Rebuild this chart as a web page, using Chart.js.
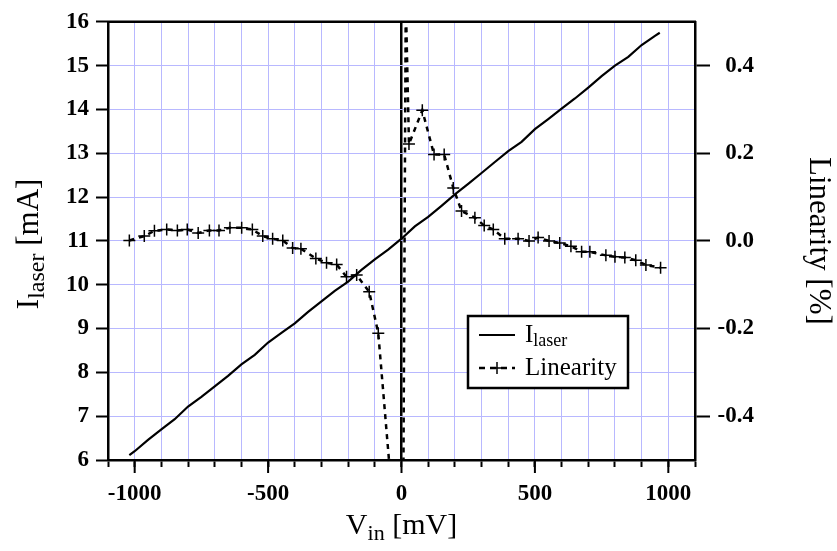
<!DOCTYPE html>
<html><head><meta charset="utf-8">
<script src="https://cdn.jsdelivr.net/npm/chart.js@4.4.0/dist/chart.umd.min.js"></script>
<style>html,body{margin:0;padding:0;background:#fff;} #wrap{width:837px;height:551px;position:relative;}</style>
</head><body><div id="wrap"><canvas id="c" width="837" height="551"></canvas></div>
<script>
// ---- data ----
const vinCurrent = [-1020,-1000,-950,-900,-850,-800,-750,-700,-650,-600,-550,-500,-450,-400,-350,-300,-250,-200,-150,-100,-50,0,50,100,150,200,250,300,350,400,450,500,550,600,650,700,750,800,850,900,950,968];
const laserCurrent = [6.11,6.20,6.46,6.70,6.93,7.22,7.44,7.68,7.92,8.18,8.40,8.68,8.90,9.12,9.38,9.62,9.86,10.07,10.34,10.58,10.80,11.05,11.33,11.55,11.80,12.06,12.30,12.55,12.80,13.05,13.26,13.55,13.78,14.02,14.25,14.50,14.76,15.00,15.20,15.47,15.68,15.75];
const vinLinearity = [-1020,-964,-926,-880,-840,-803,-762,-720,-684,-643,-599,-559,-520,-483,-445,-408,-377,-321,-281,-243,-206,-168,-121,-87,-40,7,16,28,78,122,160,194,225,275,310,344,387,437,478,512,553,593,635,675,706,766,800,837,878,916,971];
const linearity = [0.001,0.011,0.023,0.026,0.024,0.026,0.018,0.024,0.024,0.030,0.030,0.026,0.011,0.005,0.001,-0.016,-0.018,-0.040,-0.050,-0.054,-0.082,-0.078,-0.116,-0.211,-0.55,-0.55,0.55,0.221,0.298,0.197,0.197,0.121,0.068,0.053,0.035,0.026,0.005,0.005,0.000,0.0075,0.000,-0.005,-0.012,-0.025,-0.025,-0.033,-0.036,-0.038,-0.044,-0.055,-0.061];
const xMajorTicks = [-1000,-500,0,500,1000];
const yLeftTicks = [6,7,8,9,10,11,12,13,14,15,16];
const yRightTicks = [-0.4,-0.2,0.0,0.2,0.4];

const FONT = '"Liberation Serif", "Times New Roman", serif';
const GRID = 'rgb(184,184,255)';

function richWidth(ctx, parts){
  let w = 0;
  for (const p of parts){ ctx.font = p.font; w += ctx.measureText(p.t).width; }
  return w;
}
function drawRich(ctx, parts, cx, cy, rot){
  ctx.save();
  ctx.translate(cx, cy);
  if (rot) ctx.rotate(rot);
  const w = richWidth(ctx, parts);
  let x = -w/2;
  ctx.textBaseline = 'middle';
  ctx.textAlign = 'left';
  ctx.fillStyle = '#000';
  for (const p of parts){
    ctx.font = p.font;
    ctx.fillText(p.t, x, p.dy || 0);
    x += ctx.measureText(p.t).width;
  }
  ctx.restore();
}
function drawRichLeft(ctx, parts, x, cy){
  ctx.save();
  ctx.textBaseline = 'middle';
  ctx.textAlign = 'left';
  ctx.fillStyle = '#000';
  for (const p of parts){
    ctx.font = p.font;
    ctx.fillText(p.t, x, cy + (p.dy || 0));
    x += ctx.measureText(p.t).width;
  }
  ctx.restore();
}

const decor = {
  id: 'decor',
  afterDraw(chart){
    const ctx = chart.ctx;
    const a = chart.chartArea;
    const xs = chart.scales.x;
    ctx.save();
    // top frame
    ctx.strokeStyle = '#000';
    ctx.lineWidth = 2.5;
    ctx.beginPath();
    ctx.moveTo(a.left - 1, a.top); ctx.lineTo(a.right + 1, a.top);
    ctx.stroke();
    // major x ticks (longer)
    ctx.lineWidth = 2;
    for (const v of xMajorTicks){
      const px = xs.getPixelForValue(v);
      ctx.beginPath(); ctx.moveTo(px, a.bottom); ctx.lineTo(px, a.bottom + 13); ctx.stroke();
    }
    // legend
    const L = {x: 468, y: 316, w: 160, h: 72};
    ctx.fillStyle = '#fff';
    ctx.fillRect(L.x, L.y, L.w, L.h);
    ctx.lineWidth = 2.5;
    ctx.strokeRect(L.x, L.y, L.w, L.h);
    const r1 = L.y + 19, r2 = L.y + 52;
    ctx.lineWidth = 2;
    ctx.beginPath(); ctx.moveTo(479, r1); ctx.lineTo(515, r1); ctx.stroke();
    ctx.setLineDash([6,5]);
    ctx.lineWidth = 2.5;
    ctx.beginPath(); ctx.moveTo(479, r2); ctx.lineTo(515, r2); ctx.stroke();
    ctx.setLineDash([]);
    ctx.lineWidth = 1.5;
    ctx.beginPath(); ctx.moveTo(491, r2); ctx.lineTo(503, r2); ctx.moveTo(497, r2-6); ctx.lineTo(497, r2+6); ctx.stroke();
    drawRichLeft(ctx, [{t:'I', font:'25px '+FONT},{t:'laser', font:'18px '+FONT, dy:6}], 525, r1);
    drawRichLeft(ctx, [{t:'Linearity', font:'25px '+FONT}], 525, r2);
    // axis titles
    drawRich(ctx, [{t:'V', font:'30px '+FONT},{t:'in', font:'22px '+FONT, dy:8},{t:' [mV]', font:'30px '+FONT}], (a.left+a.right)/2, 526, 0);
    drawRich(ctx, [{t:'I', font:'31px '+FONT},{t:'laser', font:'24px '+FONT, dy:8},{t:' [mA]', font:'31px '+FONT}], 30, (a.top+a.bottom)/2 + 3, -Math.PI/2);
    drawRich(ctx, [{t:'Linearity [%]', font:'31px '+FONT}], 818, (a.top+a.bottom)/2, Math.PI/2);
    ctx.restore();
  }
};

const currentPts = vinCurrent.map((v,i)=>({x:v, y:laserCurrent[i]}));
const linPts = vinLinearity.map((v,i)=>({x:v, y:linearity[i]}));

new Chart(document.getElementById('c'), {
  type: 'line',
  data: {
    datasets: [
      { label: 'I_laser', data: currentPts, yAxisID: 'y', borderColor: '#000', borderWidth: 2.2,
        pointRadius: 0, tension: 0, fill: false, clip: 0 },
      { label: 'Linearity', data: linPts, yAxisID: 'y2', borderColor: '#000', borderWidth: 2.5,
        borderDash: [5,5], pointStyle: 'cross', pointRadius: 6, pointBorderWidth: 1.5,
        pointBorderColor: '#000', pointBackgroundColor: '#000', tension: 0, fill: false, clip: 0 }
    ]
  },
  options: {
    responsive: false,
    animation: false,
    events: [],
    layout: { padding: { top: 19, left: 0, right: 83, bottom: 0 } },
    plugins: { legend: { display: false }, tooltip: { enabled: false } },
    scales: {
      x: {
        type: 'linear', position: 'bottom', min: -1100, max: 1100,
        ticks: { stepSize: 100, autoSkip: false, maxRotation: 0, padding: 13, color: '#000',
          font: { family: FONT, size: 23, weight: 'bold' },
          callback: v => xMajorTicks.includes(v) ? String(v) : '' },
        grid: {
          color: c => (c.tick && c.tick.value === 0) ? '#000' : GRID,
          lineWidth: c => (c.tick && c.tick.value === 0) ? 2.5 : 1,
          tickColor: '#000', tickLength: 7, tickWidth: 2 },
        border: { display: true, color: '#000', width: 2.5 },
        afterFit: s => { s.height = 91; }
      },
      y: {
        type: 'linear', position: 'left', min: 6, max: 16,
        afterBuildTicks: s => { s.ticks = yLeftTicks.map(v => ({value: v})); },
        ticks: { padding: 7, color: '#000', font: { family: FONT, size: 23, weight: 'bold' },
          callback: v => String(v) },
        grid: { color: GRID, lineWidth: 1, tickColor: '#000', tickLength: 12, tickWidth: 2 },
        border: { display: true, color: '#000', width: 2.5 },
        afterFit: s => { s.width = 108; }
      },
      y2: {
        type: 'linear', position: 'right', min: -0.5, max: 0.5,
        afterBuildTicks: s => { s.ticks = yRightTicks.map(v => ({value: v})); },
        ticks: { padding: 8, color: '#000', crossAlign: 'far', font: { family: FONT, size: 23, weight: 'bold' },
          callback: v => Number(v).toFixed(1) },
        grid: { drawOnChartArea: false, tickColor: '#000', tickLength: 15, tickWidth: 2 },
        border: { display: true, color: '#000', width: 2.5 },
        afterFit: s => { s.width = 59; }
      }
    }
  },
  plugins: [decor]
});
</script>
</body></html>
